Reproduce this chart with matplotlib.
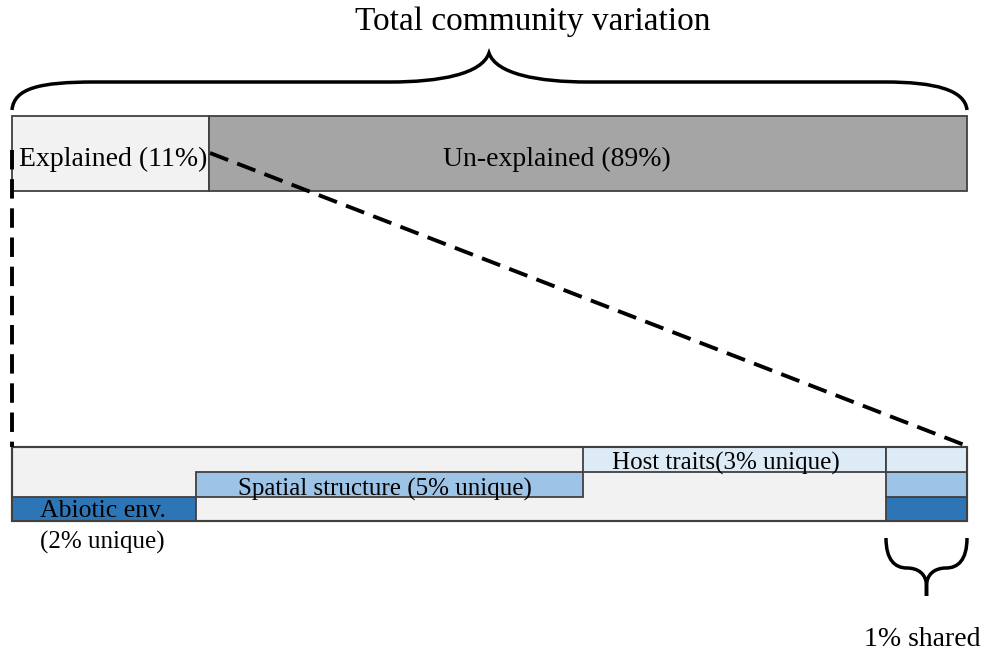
import matplotlib
matplotlib.use("Agg")
import matplotlib.pyplot as plt
from matplotlib.path import Path
from matplotlib.patches import PathPatch

# ---- data (schematic widths in % of bar length, labels) ----
top_labels = ["Explained (11%)", "Un-explained (89%)"]
top_widths = [20.6, 79.4]
top_colors = ["#F2F2F2", "#A5A5A5"]

parts = ["Abiotic env.", "Spatial structure", "Host traits"]
part_labels = ["Abiotic env.\n(2% unique)", "Spatial structure (5% unique)", "Host traits(3% unique)"]
part_unique = [2, 5, 3]
part_lefts = [0.0, 19.3, 59.8]
part_widths = [19.3, 40.5, 31.7]
part_colors = ["#2E75B6", "#9DC3E6", "#DDEBF7"]
shared_left = 91.5
shared_width = 8.5
shared_label = "1% shared"
title = "Total community variation"

W, H = 984, 653
fig = plt.figure(figsize=(W / 100, H / 100), dpi=100)
ax = fig.add_axes([0, 0, 1, 1])
scale = 9.55
x0 = 12
ax.set_xlim(-x0 / scale, (W - x0) / scale)
ax.set_ylim(H, 0)
ax.axis("off")

font = "Liberation Serif"
edge = "#404040"

# top bar
left = 0
for w, c in zip(top_widths, top_colors):
    ax.barh(153, w, left=left, height=75, color=c, edgecolor=edge, linewidth=1.3, zorder=2)
    left += w

# lower bar background
ax.barh(484, 100, left=0, height=74, color="#F2F2F2", edgecolor=edge, linewidth=1.5, zorder=2)
row_y = [509, 484.5, 459.5]
row_h = [24.5, 25, 25]
for l, w, c, y, h in zip(part_lefts, part_widths, part_colors, row_y, row_h):
    ax.barh(y, w, left=l, height=h, color=c, edgecolor=edge, linewidth=1.3, zorder=3)
    ax.barh(y, shared_width, left=shared_left, height=h, color=c, edgecolor=edge, linewidth=1.3, zorder=3)
ax.barh(484, 100, left=0, height=74, color="none", edgecolor=edge, linewidth=1.5, zorder=4)

def X(p):
    return (p - x0) / scale

# texts
ax.text(X(533), 22, title, fontsize=24, family=font, ha="center", va="center")
ax.text(X(113), 159, top_labels[0], fontsize=20, family=font, ha="center", va="center", zorder=5)
ax.text(X(557), 159, top_labels[1], fontsize=20, family=font, ha="center", va="center", zorder=5)
ax.text(X(103), 511, "Abiotic env.", fontsize=18.5, family=font, ha="center", va="center", zorder=5)
ax.text(X(102), 542, "(2% unique)", fontsize=18, family=font, ha="center", va="center", zorder=5)
ax.text(X(385), 489, part_labels[1], fontsize=18, family=font, ha="center", va="center", zorder=5)
ax.text(X(726), 463, part_labels[2], fontsize=18, family=font, ha="center", va="center", zorder=5)
ax.text(X(922), 640, shared_label, fontsize=20, family=font, ha="center", va="center", zorder=5)

# dashed lines
ax.plot([X(12), X(12)], [150, 447], ls=(0, (5, 2.5)), color="black", lw=2.8, zorder=6)
ax.plot([X(210), X(967)], [153, 446], ls=(0, (5, 2.5)), color="black", lw=2.8, zorder=6)

# top brace
verts = [(12, 110),
         (14, 88), (40, 82), (95, 82),
         (390, 82),
         (440, 82), (482, 74), (489, 53),
         (496, 74), (538, 82), (588, 82),
         (885, 82),
         (935, 82), (965, 90), (967, 110)]
codes = [Path.MOVETO, Path.CURVE4, Path.CURVE4, Path.CURVE4, Path.LINETO,
         Path.CURVE4, Path.CURVE4, Path.CURVE4,
         Path.CURVE4, Path.CURVE4, Path.CURVE4, Path.LINETO,
         Path.CURVE4, Path.CURVE4, Path.CURVE4]
verts = [(X(a), b) for a, b in verts]
ax.add_patch(PathPatch(Path(verts, codes), fill=False, lw=2.5, edgecolor="black", zorder=6))

# lower brace
verts2 = [(886, 538),
          (886, 560), (895, 568), (907, 568),
          (918, 568), (926.5, 574), (926.5, 586),
          (926.5, 596),
          (926.5, 586),
          (926.5, 574), (935, 568), (946, 568),
          (958, 568), (967, 560), (967, 538)]
codes2 = [Path.MOVETO, Path.CURVE4, Path.CURVE4, Path.CURVE4,
          Path.CURVE4, Path.CURVE4, Path.CURVE4,
          Path.LINETO, Path.LINETO,
          Path.CURVE4, Path.CURVE4, Path.CURVE4,
          Path.CURVE4, Path.CURVE4, Path.CURVE4]
verts2 = [(X(a), b) for a, b in verts2]
ax.add_patch(PathPatch(Path(verts2, codes2), fill=False, lw=2.5, edgecolor="black", zorder=6))

fig.savefig("out.png", dpi=100)
